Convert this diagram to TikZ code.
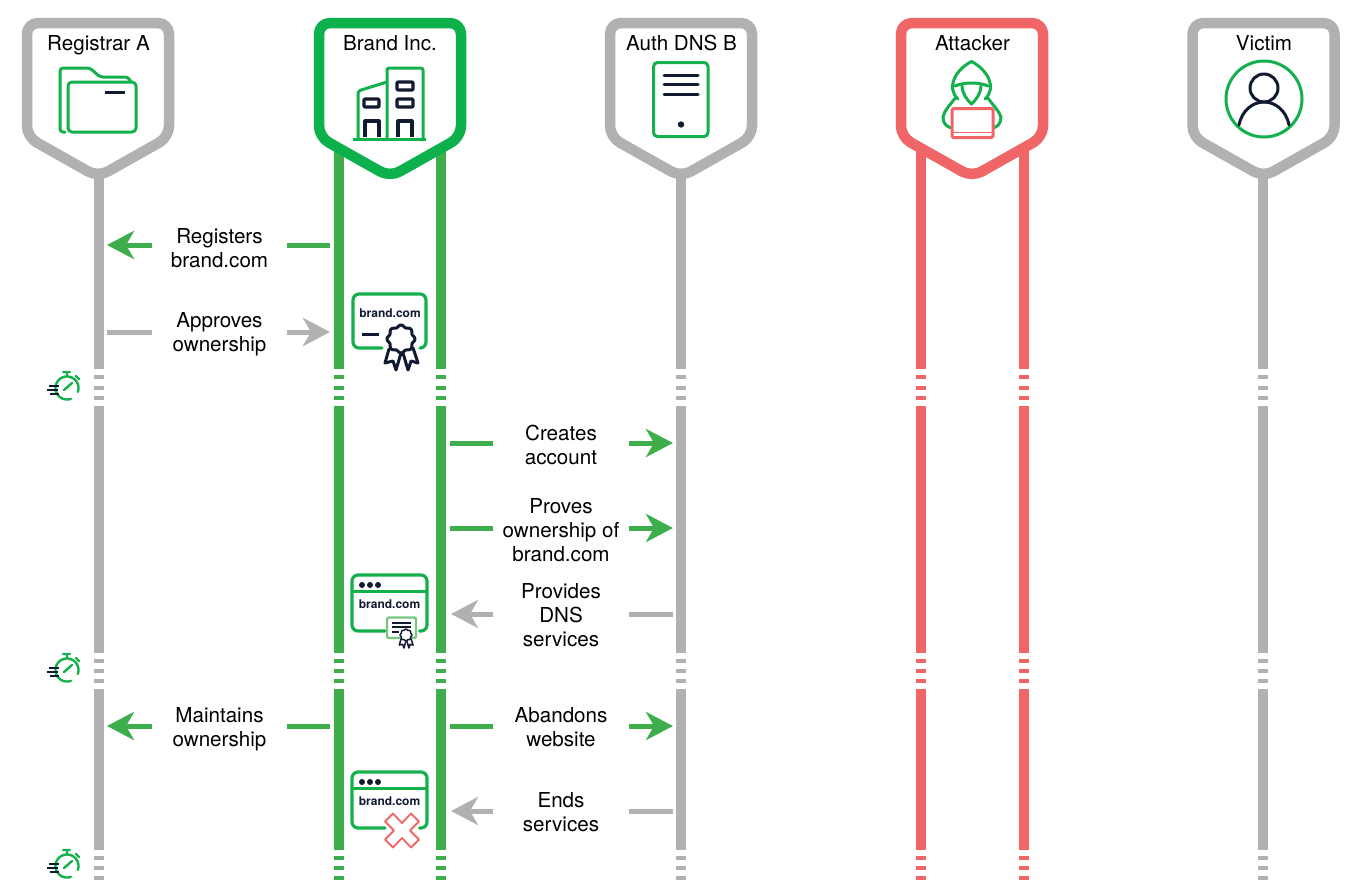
\documentclass[tikz,border=0pt]{standalone}
\usepackage{fontspec}
\setmainfont{TeX Gyre Heros}
\usetikzlibrary{arrows.meta}
\definecolor{brandgreen}{HTML}{0DB14B}
\definecolor{linegreen}{HTML}{3DAE4B}
\definecolor{neutral}{HTML}{B1B1B3}
\definecolor{alert}{HTML}{F06666}
\definecolor{navy}{HTML}{101A30}
\tikzset{
  msglabel/.style={inner sep=0pt,minimum width=135pt,align=center,font=\fontsize{20.6}{24}\selectfont,text=black},
  titlelabel/.style={inner sep=0pt,anchor=base,font=\fontsize{20.6}{24}\selectfont,text=black},
  domainlabel/.style={inner sep=0pt,font=\fontsize{12}{14}\selectfont\bfseries,text=navy},
  shieldbody/.style={line width=10.5pt,fill=white,rounded corners=11pt,line join=round},
  iconline/.style={line width=3pt,brandgreen!85!linegreen,line join=round,line cap=round},
  darkline/.style={line width=3pt,navy,line join=round,line cap=round},
  greenline/.style={line width=5pt,linegreen},
  greyline/.style={line width=5pt,neutral},
  greenarrow/.style={greenline,-{Stealth[length=27pt,width=28pt,inset=8pt]}},
  greyarrow/.style={greyline,-{Stealth[length=27pt,width=28pt,inset=8pt]}},
  pics/shieldform/.style={code={
    \draw[shieldbody,draw=#1] (-71,23) -- (71,23) -- (71,137) -- (0,177) -- (-71,137) -- cycle;
  }},
  pics/stopwatch/.style={code={
    \draw[iconline,line width=2.4pt] plot[domain=-200:110,samples=50,variable=\t] ({11.5*sin(\t+90)*-1},{11.5*cos(\t+90)*-1});
    \draw[iconline,line width=2.4pt] (-4,-16) -- (3,-16) (0,-16) -- (0,-12) (9,-12) -- (12,-9);
    \draw[iconline,line width=2.4pt] (-3,2) -- (5,-5);
    \draw[darkline,line width=1.8pt,line cap=butt] (-18,-2) -- (-8,-2) (-20,2) -- (-9,2) (-17,6) -- (-8,6);
  }},
  pics/browserwin/.style={code={
    \draw[iconline,rounded corners=6pt,line width=3.2pt] (-4.5,56) -- (-37.5,56) -- (-37.5,0) -- (37.5,0) -- (37.5,56) -- (30,56);
    \draw[iconline,line width=3pt,line cap=butt] (-37.5,16) -- (37.5,16);
    \foreach \dx in {-27.5,-19.5,-11.5} \fill[navy] (\dx,10) circle[radius=3pt];
    \node[domainlabel] (-domain) at (0,29) {brand.com};
  }}
}
% One vertical lifeline, broken by three sets of time-gap dashes
\newcommand{\lifeline}[2]{%
  \draw[line width=10pt,#2] (#1,145) -- (#1,369) (#1,406) -- (#1,653) (#1,689) -- (#1,850);
  \foreach \yy in {377,388,398,661,671,681,858,868,878}
    \draw[line width=4.5pt,#2] ({#1-5},\yy) -- ({#1+5},\yy);
}
% Scalloped award seal with its two ribbons; the last argument is its stroke width
\newcommand{\seal}[4]{%
  \begin{scope}[shift={(#1,#2)},scale=#3]
    \draw[darkline,line width=#4,fill=white] (-12,10) -- (-16,24) -- (-8,22) -- (-5,31) -- (0,14);
    \draw[darkline,line width=#4,fill=white] (2,14) -- (7,31) -- (10,22) -- (17,24) -- (12,9);
    \draw[darkline,line width=#4,fill=white] plot[domain=0:360,samples=97,variable=\t,smooth] ({(13+1*cos(8*\t))*cos(\t)},{(13+1*cos(8*\t))*sin(\t)}) -- cycle;
  \end{scope}}
\begin{document}
\begin{tikzpicture}[x=1pt,y=-1pt]
\useasboundingbox (0,0) rectangle (1368,884);

% Lifelines
\lifeline{99}{neutral}
\lifeline{339}{linegreen}
\lifeline{441}{linegreen}
\lifeline{681}{neutral}
\lifeline{921}{alert}
\lifeline{1024}{alert}
\lifeline{1263}{neutral}

% Actor shields
\pic at (98,0) {shieldform=neutral};
\pic at (390,0) {shieldform=brandgreen};
\pic at (681,0) {shieldform=neutral};
\pic at (972,0) {shieldform=alert};
\pic at (1263.5,0) {shieldform=neutral};
\node[titlelabel] (registrar) at (98.5,50) {Registrar A};
\node[titlelabel] (brand) at (390,50) {Brand Inc.};
\node[titlelabel] (authdns) at (681.5,50) {Auth DNS B};
\node[titlelabel] (attacker) at (972.5,50) {Attacker};
\node[titlelabel] (victim) at (1264,50) {Victim};

% Folder icon
\draw[iconline,rounded corners=3pt] (65,132) -- (60,132) -- (60,68) -- (90,68) -- (100,77) -- (128,77) -- (131,82);
\draw[iconline,rounded corners=4pt] (68,132) -- (68,82) -- (136,82) -- (136,132) -- cycle;
\draw[darkline,line cap=butt] (105,92) -- (125,92);

% Building icon
\draw[iconline,rounded corners=1.5pt] (387,138) -- (387,68) -- (423,68) -- (423,138);
\draw[iconline,rounded corners=2pt] (358,138) -- (358,91) -- (387,82);
\draw[iconline,line width=3pt,line cap=butt] (353,139.5) -- (426,139.5);
\foreach \wx/\wy/\ww in {397/82/16,397/99/16,364/99/15}
  \draw[darkline,line width=3.2pt,rounded corners=1pt] (\wx,\wy) rectangle ++(\ww,8);
\draw[darkline,line width=3.2pt,line cap=butt] (365,137) -- (365,121) -- (379,121) -- (379,137);
\draw[darkline,line width=3.2pt,line cap=butt] (398,137) -- (398,121) -- (412,121) -- (412,137);

% Server icon
\draw[iconline,rounded corners=4pt] (653.5,62.5) rectangle (708,136.5);
\foreach \ly in {75,84.5,94} \draw[darkline] (664,\ly) -- (698,\ly);
\fill[navy] (681,124.5) circle[radius=3.2pt];

% Hooded figure with laptop
\draw[iconline] (958,99) .. controls (946,88) and (955,70) .. (971.5,61.5) .. controls (988,70) and (997,88) .. (985,99);
\draw[iconline] (955,86) .. controls (964,82) and (979,82) .. (988,86);
\draw[iconline] (962,86) .. controls (962,93) and (967,100) .. (971.5,104) .. controls (976,100) and (981,93) .. (981,86);
\draw[iconline] (956,97) .. controls (950,105) and (944,111) .. (943,117) .. controls (943,124) and (947,127) .. (952,128);
\draw[iconline] (987,97) .. controls (993,105) and (999,111) .. (1001,117) .. controls (1001,124) and (997,127) .. (993,128);
\draw[alert,line width=3pt,rounded corners=1.5pt,fill=white] (952,108.5) rectangle (993,137.5);
\draw[alert,line width=1.8pt] (952,132.5) -- (993,132.5);

% Person icon
\draw[iconline] (1264,99) circle[radius=38pt];
\draw[darkline] (1264,88) circle[radius=14pt];
\draw[darkline] (1239,125) .. controls (1242,110) and (1253,102) .. (1264,102) .. controls (1275,102) and (1286,110) .. (1289,125);

% Time-gap stopwatches
\pic at (67,388) {stopwatch};
\pic at (67,670) {stopwatch};
\pic at (67,866) {stopwatch};

% Ownership certificate
\draw[iconline,rounded corners=6pt,line width=3.2pt] (382,348) -- (353,348) -- (353,294) -- (426,294) -- (426,348) -- (420,348);
\node[domainlabel] (certdomain) at (390,313) {brand.com};
\draw[darkline,line width=3pt,line cap=butt] (362,334) -- (379,334);
\seal{401}{339}{1}{3pt}

% Hosted website with its small certificate
\pic (hosted) at (389.5,575) {browserwin};
\draw[linegreen!70!white,line width=2.4pt,rounded corners=2pt,fill=white] (387,617.5) rectangle (416,638);
\foreach \ly in {623,627} \draw[navy,line width=1.2pt] (392,\ly) -- (411,\ly);
\draw[navy,line width=1.2pt] (392,632) -- (399,632);
\seal{406}{635}{0.42}{1.5pt}

% Abandoned website with a red cross
\pic (abandoned) at (389.5,772) {browserwin};
\draw[alert,line width=1.8pt,fill=white,line join=round]
  (402,823) -- (411,813.5) -- (419,821.5) -- (410,830.5) -- (419,839.5) -- (411,847.5) -- (402,838) -- (393,847.5) -- (385,839.5) -- (394,830.5) -- (385,821.5) -- (393,813.5) -- cycle;

% Messages between Registrar A and Brand Inc.
\node[msglabel] (registers) at (219.5,248) {Registers\\brand.com};
\coordinate (registersL) at (107,245);
\coordinate (registersR) at (330,245);
\draw[greenarrow] (registers.west |- registersL) -- (registersL);
\draw[greenline] (registers.east |- registersR) -- (registersR);

\node[msglabel] (approves) at (219.5,334.5) {Approves\\ownership};
\coordinate (approvesL) at (107,332);
\coordinate (approvesR) at (330,332);
\draw[greyline] (approves.west |- approvesL) -- (approvesL);
\draw[greyarrow] (approves.east |- approvesR) -- (approvesR);

\node[msglabel] (maintains) at (219.5,729) {Maintains\\ownership};
\coordinate (maintainsL) at (107,726);
\coordinate (maintainsR) at (330,726);
\draw[greenarrow] (maintains.west |- maintainsL) -- (maintainsL);
\draw[greenline] (maintains.east |- maintainsR) -- (maintainsR);

% Messages between Brand Inc. and Auth DNS B
\node[msglabel] (creates) at (561,444.5) {Creates\\account};
\coordinate (createsL) at (450,443);
\coordinate (createsR) at (673,443);
\draw[greenline] (creates.west |- createsL) -- (createsL);
\draw[greenarrow] (creates.east |- createsR) -- (createsR);

\node[msglabel] (proves) at (561,530) {Proves\\ownership of\\brand.com};
\coordinate (provesL) at (450,528);
\coordinate (provesR) at (673,528);
\draw[greenline] (proves.west |- provesL) -- (provesL);
\draw[greenarrow] (proves.east |- provesR) -- (provesR);

\node[msglabel] (provides) at (561,615) {Provides\\DNS\\services};
\coordinate (providesL) at (451,614);
\coordinate (providesR) at (673,614);
\draw[greyarrow] (provides.west |- providesL) -- (providesL);
\draw[greyline] (provides.east |- providesR) -- (providesR);

\node[msglabel] (abandons) at (561,727) {Abandons\\website};
\coordinate (abandonsL) at (450,726);
\coordinate (abandonsR) at (673,726);
\draw[greenline] (abandons.west |- abandonsL) -- (abandonsL);
\draw[greenarrow] (abandons.east |- abandonsR) -- (abandonsR);

\node[msglabel] (ends) at (561,812) {Ends\\services};
\coordinate (endsL) at (451,811);
\coordinate (endsR) at (673,811);
\draw[greyarrow] (ends.west |- endsL) -- (endsL);
\draw[greyline] (ends.east |- endsR) -- (endsR);
\end{tikzpicture}
\end{document}
